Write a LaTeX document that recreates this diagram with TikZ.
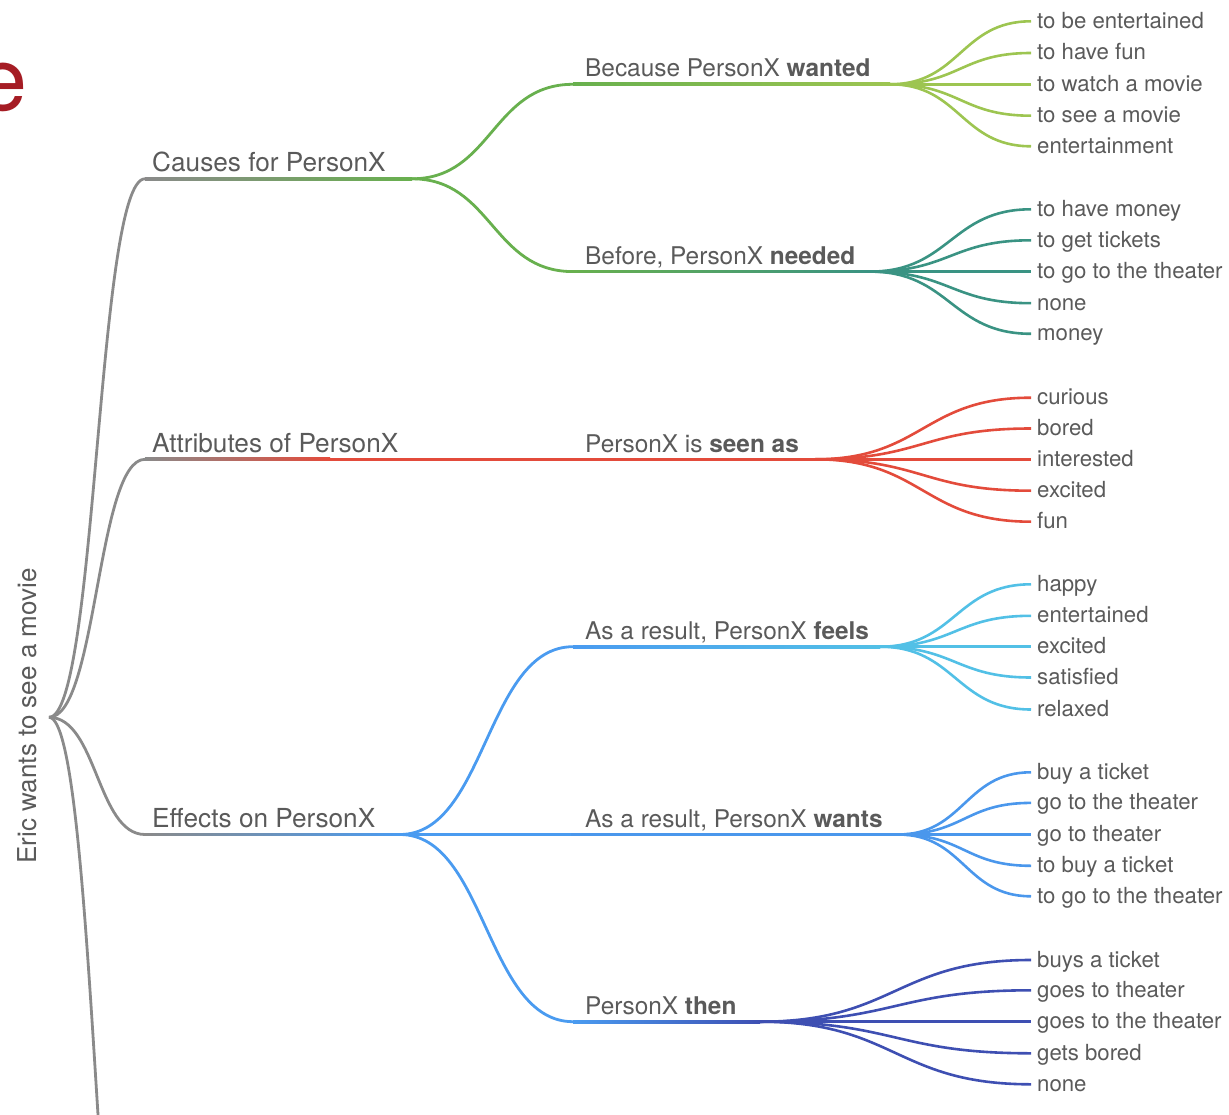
\documentclass[tikz,border=0pt]{standalone}
\usepackage{fontspec}
\setmainfont{TeX Gyre Heros}
\usetikzlibrary{calc}
\definecolor{lgray}{HTML}{8A8A8A}
\definecolor{cgreen}{HTML}{68B04E}
\definecolor{cwanted}{HTML}{9DC551}
\definecolor{cneeded}{HTML}{3A9383}
\definecolor{cred}{HTML}{E34B3B}
\definecolor{cblue}{HTML}{4A9BF0}
\definecolor{cfeels}{HTML}{52C0E6}
\definecolor{cwants}{HTML}{4A97EC}
\definecolor{cthen}{HTML}{3E4FB2}
\definecolor{txt}{HTML}{5A5A5A}
\definecolor{titlered}{HTML}{A51C24}
\begin{document}
\begin{tikzpicture}[x=1pt,y=-1pt,
  lnk/.style={line width=2.8pt},
  leafln/.style={line width=2.6pt},
  leaf/.style={anchor=west, inner xsep=6pt, inner ysep=0pt, text height=14pt, text depth=0pt, font=\fontsize{22.2}{26}\selectfont, text=txt},
  lone/.style={anchor=base west, inner sep=0pt, font=\fontsize{26.2}{30}\selectfont, text=txt},
  ltwo/.style={anchor=base west, inner sep=0pt, font=\fontsize{24.4}{28}\selectfont, text=txt}]
\useasboundingbox (0,0) rectangle (1229,1115);

% cropped title letter
\node[anchor=base east, inner sep=0pt, text=titlered, font=\fontsize{88}{90}\selectfont] (etitle) at (28,111) {e};

% root
\coordinate (rp) at (49,717.3);
\node[rotate=90, anchor=base, inner sep=0pt, font=\fontsize{26}{30}\selectfont, text=txt] (root) at (36,716) {Eric wants to see a movie};

% level 1 coordinates
\coordinate (c1s) at (145,178.8);  \coordinate (c1e) at (412,178.8);
\coordinate (a1s) at (145,459.3);  \coordinate (a1e) at (330,459.3);
\coordinate (e1s) at (145,834.5);  \coordinate (e1e) at (400,834.5);
\coordinate (hid) at (145,1480);

\node[lone] (causes) at (152,171.5) {Causes for PersonX};
\node[lone] (attr) at (152,452) {Attributes of PersonX};
\node[lone] (effects) at (152,827.5) {Effects on PersonX};

% root links
\draw[lnk,lgray] (rp) .. controls (97,717.3) and (97,178.8) .. (c1s);
\draw[lnk,lgray] (rp) .. controls (97,717.3) and (97,459.3) .. (a1s);
\draw[lnk,lgray] (rp) .. controls (97,717.3) and (97,834.5) .. (e1s);
\draw[lnk,lgray] (rp) .. controls (97,717.3) and (97,1480) .. (hid);

% level 1 underlines
\shade[left color=lgray, right color=cgreen] ($(c1s)+(0,-1.4)$) rectangle ($(c1e)+(0,1.4)$);
\shade[left color=lgray, right color=cred] ($(a1s)+(0,-1.4)$) rectangle ($(a1e)+(0,1.4)$);
\shade[left color=lgray, right color=cblue] ($(e1s)+(0,-1.4)$) rectangle ($(e1e)+(0,1.4)$);

% level 2 coordinates
\coordinate (w2s) at (573,84.3);   \coordinate (fw) at (890,84.3);
\coordinate (n2s) at (573,271.6);  \coordinate (fn) at (870,271.6);
\coordinate (s2s) at (573,459.3);  \coordinate (fs) at (815,459.3);
\coordinate (f2s) at (573,646.7);  \coordinate (ff) at (880,646.7);
\coordinate (t2s) at (573,834.5);  \coordinate (fwt) at (898,834.5);
\coordinate (h2s) at (573,1021.7); \coordinate (fh) at (760,1021.7);

\node[ltwo] (wanted) at (585,77) {Because PersonX \textbf{wanted}};
\node[ltwo] (needed) at (585,264.5) {Before, PersonX \textbf{needed}};
\node[ltwo] (seen) at (585,452) {PersonX is \textbf{seen as}};
\node[ltwo] (feels) at (585,639.5) {As a result, PersonX \textbf{feels}};
\node[ltwo] (wants) at (585,827) {As a result, PersonX \textbf{wants}};
\node[ltwo] (then) at (585,1014.5) {PersonX \textbf{then}};

% level 1 -> level 2 links
\draw[lnk,cgreen] (c1e) .. controls (492,178.8) and (492,84.3) .. (w2s);
\draw[lnk,cgreen] (c1e) .. controls (492,178.8) and (492,271.6) .. (n2s);
\draw[lnk,cred] (a1e) -- (s2s);
\draw[lnk,cblue] (e1e) .. controls (486,834.5) and (486,646.7) .. (f2s);
\draw[lnk,cblue] (e1e) -- (t2s);
\draw[lnk,cblue] (e1e) .. controls (486,834.5) and (486,1021.7) .. (h2s);

% level 2 underlines
\shade[left color=cgreen, middle color=cgreen, right color=cwanted] ($(w2s)+(0,-1.4)$) rectangle ($(fw)+(0,1.4)$);
\shade[left color=cgreen, middle color=cgreen, right color=cneeded] ($(n2s)+(0,-1.4)$) rectangle ($(fn)+(0,1.4)$);
\fill[cred] ($(s2s)+(-2,-1.4)$) rectangle ($(fs)+(0,1.4)$);
\shade[left color=cblue, middle color=cblue, right color=cfeels] ($(f2s)+(0,-1.4)$) rectangle ($(ff)+(0,1.4)$);
\fill[cwants] ($(t2s)+(-2,-1.4)$) rectangle ($(fwt)+(0,1.4)$);
\shade[left color=cblue, right color=cthen] ($(h2s)+(0,-1.4)$) rectangle ($(fh)+(0,1.4)$);

% leaves
\foreach \i/\y/\t in {1/21.3/to be entertained, 2/53/to have fun, 3/84.3/to watch a movie, 4/115.7/to see a movie, 5/146.3/entertainment}{
  \node[leaf] (wa\i) at (1031,\y) {\t};
  \draw[leafln,cwanted] (fw) .. controls +(70,0) and +(-70,0) .. (wa\i.west);
}
\foreach \i/\y/\t in {1/209.3/to have money, 2/240.3/to get tickets, 3/271.6/to go to the theater, 4/303.2/none, 5/333.8/money}{
  \node[leaf] (ne\i) at (1031,\y) {\t};
  \draw[leafln,cneeded] (fn) .. controls +(80,0) and +(-80,0) .. (ne\i.west);
}
\foreach \i/\y/\t in {1/397.7/curious, 2/428.5/bored, 3/459.3/interested, 4/490.7/excited, 5/521.7/fun}{
  \node[leaf] (se\i) at (1031,\y) {\t};
  \draw[leafln,cred] (fs) .. controls +(108,0) and +(-108,0) .. (se\i.west);
}
\foreach \i/\y/\t in {1/584.3/happy, 2/615.8/entertained, 3/646.7/excited, 4/677.5/satisfied, 5/709.5/relaxed}{
  \node[leaf] (fe\i) at (1031,\y) {\t};
  \draw[leafln,cfeels] (ff) .. controls +(75,0) and +(-75,0) .. (fe\i.west);
}
\foreach \i/\y/\t in {1/772.3/buy a ticket, 2/802.9/go to the theater, 3/834.5/go to theater, 4/865.8/to buy a ticket, 5/896.3/to go to the theater}{
  \node[leaf] (wt\i) at (1031,\y) {\t};
  \draw[leafln,cwants] (fwt) .. controls +(66,0) and +(-66,0) .. (wt\i.west);
}
\foreach \i/\y/\t in {1/960/buys a ticket, 2/990.3/goes to theater, 3/1021.7/goes to the theater, 4/1053.3/gets bored, 5/1084.3/none}{
  \node[leaf] (th\i) at (1031,\y) {\t};
  \draw[leafln,cthen] (fh) .. controls +(135,0) and +(-135,0) .. (th\i.west);
}
\end{tikzpicture}
\end{document}
